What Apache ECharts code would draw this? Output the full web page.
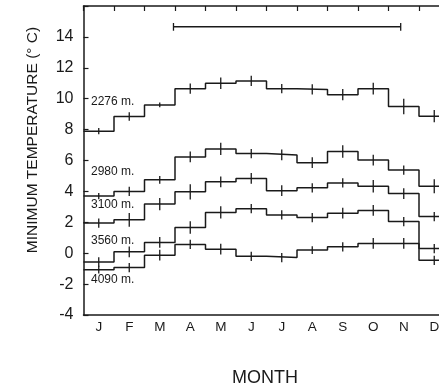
<!DOCTYPE html>
<html><head><meta charset="utf-8">
<script src="https://cdn.jsdelivr.net/npm/echarts@6/dist/echarts.min.js"></script>
<style>html,body{margin:0;padding:0;background:#fff}#c{width:439px;height:391px}</style>
</head><body><div id="c"></div>
<script>
var months = ['J','F','M','A','M','J','J','A','S','O','N','D'];
var yTicks = [-4,-2,0,2,4,6,8,10,12,14];
var elevations = ['2276 m.','2980 m.','3100 m.','3560 m.','4090 m.'];
var t2276 = [7.9, 8.85, 9.6, 10.65, 11.0, 11.15, 10.65, 10.6, 10.26, 10.65, 9.5, 8.87];
var e2276 = [0.2, 0.27, 0.15, 0.33, 0.38, 0.33, 0.3, 0.33, 0.36, 0.38, 0.5, 0.4];
var t2980 = [3.7, 4.0, 4.75, 6.23, 6.75, 6.45, 6.36, 5.86, 6.58, 6.03, 5.38, 4.33];
var e2980 = [0.2, 0.3, 0.25, 0.35, 0.4, 0.3, 0.35, 0.35, 0.4, 0.35, 0.3, 0.45];
var t3100 = [1.95, 2.16, 3.18, 3.97, 4.62, 4.84, 4.05, 4.23, 4.55, 4.33, 3.86, 2.37];
var e3100 = [0.3, 0.45, 0.4, 0.5, 0.35, 0.35, 0.35, 0.3, 0.3, 0.4, 0.35, 0.3];
var t3560 = [-0.57, 0.09, 0.7, 1.66, 2.64, 2.88, 2.48, 2.31, 2.59, 2.77, 2.05, -0.46];
var e3560 = [0.3, 0.35, 0.35, 0.4, 0.4, 0.3, 0.3, 0.3, 0.35, 0.35, 0.3, 0.3];
var t4090 = [-1.07, -0.93, -0.13, 0.57, 0.26, -0.2, -0.28, 0.2, 0.41, 0.63, 0.63, 0.3];
var e4090 = [0.25, 0.3, 0.35, 0.3, 0.35, 0.3, 0.3, 0.25, 0.3, 0.35, 0.35, 0.3];
var periodStart = 2.95, periodEnd = 10.4, periodLevel = 14.65;

var temps = [t2276, t2980, t3100, t3560, t4090];
var errs = [e2276, e2980, e3100, e3560, e4090];
var INK = '#1a1a1a';
var chart = echarts.init(document.getElementById('c'));
var series = [];
temps.forEach(function (arr, k) {
  var pts = arr.map(function (v, i) { return [i, v]; });
  pts.push([arr.length, arr[arr.length - 1]]);
  series.push({ type: 'line', xAxisIndex: 1, step: 'end', data: pts, symbol: 'none',
    lineStyle: { color: INK, width: 1.5 }, silent: true, z: 3 });
  var eb = arr.map(function (v, i) { return [i + 0.5, v, errs[k][i]]; });
  series.push({ type: 'custom', xAxisIndex: 1, data: eb, silent: true, z: 4,
    renderItem: function (params, api) {
      var x = api.value(0), v = api.value(1), e = api.value(2);
      var a = api.coord([x, v - e]), b = api.coord([x, v + e]);
      return { type: 'line', shape: { x1: a[0], y1: a[1], x2: b[0], y2: b[1] },
        style: { stroke: INK, lineWidth: 1.3 } };
    } });
});
series.push({ type: 'line', xAxisIndex: 1, data: [[periodStart, periodLevel], [periodEnd, periodLevel]],
  symbol: 'none', lineStyle: { color: INK, width: 1.5 }, silent: true });
series.push({ type: 'custom', xAxisIndex: 1, data: [[periodStart, periodLevel], [periodEnd, periodLevel]], silent: true,
  renderItem: function (params, api) {
    var a = api.coord([api.value(0), api.value(1) - 0.25]), b = api.coord([api.value(0), api.value(1) + 0.25]);
    return { type: 'line', shape: { x1: a[0], y1: a[1], x2: b[0], y2: b[1] }, style: { stroke: INK, lineWidth: 1.3 } };
  } });

var labelY = [103, 173, 206, 242, 281];
var graphics = elevations.map(function (t, i) {
  return { type: 'text', left: 91, top: labelY[i] - 7,
    style: { text: t, font: '12px "Liberation Sans", sans-serif', fill: INK } };
});
graphics.push({ type: 'text', x: 33, y: 140, rotation: Math.PI / 2,
  style: { text: 'MINIMUM TEMPERATURE (° C)', font: '15.5px "Liberation Sans", sans-serif', fill: INK,
    align: 'center', verticalAlign: 'middle' } });
graphics.push({ type: 'text', x: 265, y: 378,
  style: { text: 'MONTH', font: '18px "Liberation Sans", sans-serif', fill: INK,
    align: 'center', verticalAlign: 'middle' } });

chart.setOption({
  animation: false,
  grid: { left: 83.5, top: 6, width: 366, height: 309, outerBoundsMode: 'none', containLabel: false },
  xAxis: [
    { type: 'category', data: months, position: 'bottom', boundaryGap: true,
      axisLine: { onZero: false, lineStyle: { color: INK, width: 1.5 } },
      axisTick: { inside: true, length: 5, lineStyle: { color: INK, width: 1.2 } },
      axisLabel: { color: INK, fontSize: 13.5, margin: 5, fontFamily: 'Liberation Sans' },
      splitLine: { show: false } },
    { type: 'value', min: 0, max: 12, interval: 1, position: 'top',
      axisLine: { show: true, onZero: false, lineStyle: { color: INK, width: 1.5 } },
      axisTick: { show: true, inside: true, length: 5, lineStyle: { color: INK, width: 1.2 } },
      axisLabel: { show: false }, splitLine: { show: false } }
  ],
  yAxis: { type: 'value', min: -4, max: 16, interval: 2,
    axisLine: { show: true, onZero: false, lineStyle: { color: INK, width: 1.5 } },
    axisTick: { show: true, inside: true, length: 5, lineStyle: { color: INK, width: 1.2 } },
    axisLabel: { color: INK, fontSize: 16, margin: 10, fontFamily: 'Liberation Sans',
      formatter: function (v) { return yTicks.indexOf(v) >= 0 ? String(v) : ''; } },
    splitLine: { show: false } },
  graphic: graphics,
  series: series
});
</script></body></html>
